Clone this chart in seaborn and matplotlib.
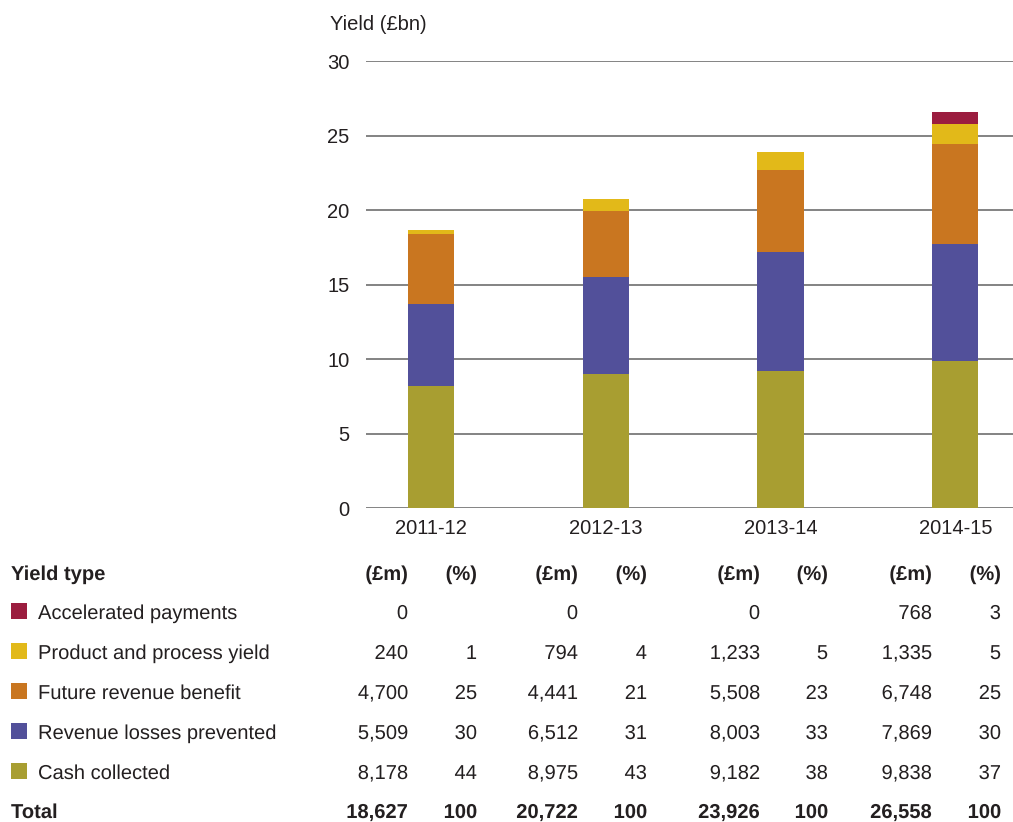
import matplotlib
matplotlib.use("Agg")
import matplotlib.pyplot as plt
import matplotlib.patheffects as pe
from matplotlib.patches import Rectangle
import numpy as np
import pandas as pd
import seaborn as sns

# Yield by year, £m
years = ["2011-12", "2012-13", "2013-14", "2014-15"]
cash_collected = [8178, 8975, 9182, 9838]
revenue_losses_prevented = [5509, 6512, 8003, 7869]
future_revenue_benefit = [4700, 4441, 5508, 6748]
product_process_yield = [240, 794, 1233, 1335]
accelerated_payments = [0, 0, 0, 768]

pct_cash = [44, 43, 38, 37]
pct_losses = [30, 31, 33, 30]
pct_future = [25, 21, 23, 25]
pct_product = [1, 4, 5, 5]
pct_accel = [None, None, None, 3]

totals = [18627, 20722, 23926, 26558]

series_names = ["Cash collected", "Revenue losses prevented", "Future revenue benefit",
                "Product and process yield", "Accelerated payments"]
series_vals = [cash_collected, revenue_losses_prevented, future_revenue_benefit,
               product_process_yield, accelerated_payments]
series_pct = [pct_cash, pct_losses, pct_future, pct_product, pct_accel]
colors = ["#a89e31", "#52509a", "#c97620", "#e2b919", "#9b1d3f"]

sns.set_theme(style="white")
plt.rcParams["font.family"] = ["Liberation Sans", "DejaVu Sans"]
TXT = "#231f20"

W, H = 1013, 822
fig = plt.figure(figsize=(W / 100, H / 100), dpi=100)
ax = fig.add_axes([366 / W, 1 - 508 / H, 1 - 366 / W, (508 - 61) / H])

# stacked bars: draw cumulative totals from top layer down
cum = np.cumsum(np.array(series_vals, dtype=float), axis=0) / 1000.0
for i in range(len(series_names) - 1, -1, -1):
    df = pd.DataFrame({"year": years, "value": cum[i]})
    sns.barplot(data=df, x="year", y="value", color=colors[i], width=0.265,
                saturation=1, ax=ax, zorder=3, linewidth=0)

ax.set_ylim(0, 30)
ax.set_yticks(range(0, 31, 5))
ax.set_xlim(-0.372, 3.33)
ax.yaxis.grid(True, color="#7a7a7a", linewidth=1.3, zorder=0)
ax.xaxis.grid(False)
for s in ax.spines.values():
    s.set_visible(False)
ax.set_xlabel("")
ax.set_ylabel("")
ax.tick_params(axis="y", length=0, pad=12, labelsize=14.5, labelcolor=TXT)
ax.tick_params(axis="x", length=0, pad=8, labelsize=14.5, labelcolor=TXT)
ax.set_axisbelow(True)

fig.text(330 / W, 1 - 25 / H, "Yield (£bn)", fontsize=14.5, color=TXT,
         ha="left", va="center")

# table under the chart; texts drawn as paths so every cell shares the row baseline
fs = 14.5
as_path = [pe.Normal()]

def fy(py):
    return 1 - (py + 8) / H

def cell(x, y, s, ha="right", bold=False):
    fig.text(x / W, fy(y), s, fontsize=fs, color=TXT, ha=ha, va="baseline",
             fontweight="bold" if bold else "normal", path_effects=as_path)

amt_x = [408, 578, 760, 932]
pct_x = [477, 647, 828, 1001]
header_y = 572
row_y = [611, 651, 691, 731, 771]
total_y = 810

cell(11, header_y, "Yield type", ha="left", bold=True)
for j in range(len(years)):
    cell(amt_x[j], header_y, "(£m)", bold=True)
    cell(pct_x[j], header_y, "(%)", bold=True)

order = list(range(len(series_names) - 1, -1, -1))
for r, i in enumerate(order):
    y = row_y[r]
    fig.add_artist(Rectangle((11 / W, 1 - (y + 8) / H), 16 / W, 16 / H,
                             transform=fig.transFigure, color=colors[i], lw=0))
    cell(38, y, series_names[i], ha="left")
    for j in range(len(years)):
        cell(amt_x[j], y, f"{series_vals[i][j]:,}")
        p = series_pct[i][j]
        if p is not None:
            cell(pct_x[j], y, f"{p}")

cell(11, total_y, "Total", ha="left", bold=True)
for j in range(len(years)):
    cell(amt_x[j], total_y, f"{totals[j]:,}", bold=True)
    cell(pct_x[j], total_y, "100", bold=True)

fig.savefig("out.png", dpi=100, facecolor="white")
